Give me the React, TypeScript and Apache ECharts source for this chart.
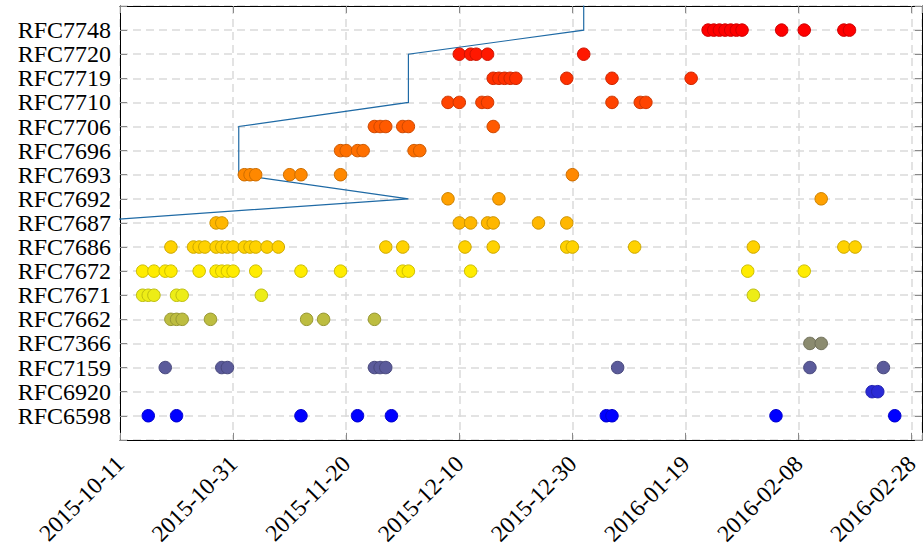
import React, { useEffect, useRef } from "react";
import * as echarts from "echarts";

// Categories, bottom to top
const categories = [
  "RFC6598", "RFC6920", "RFC7159", "RFC7366", "RFC7662", "RFC7671", "RFC7672", "RFC7686",
  "RFC7687", "RFC7692", "RFC7693", "RFC7696", "RFC7706", "RFC7710", "RFC7719", "RFC7720", "RFC7748",
];

// Event dates per RFC
const rfc6598 = ["2015-10-16", "2015-10-21", "2015-11-12", "2015-11-22", "2015-11-28", "2016-01-05", "2016-01-06", "2016-02-04", "2016-02-25"];
const rfc6920 = ["2016-02-21", "2016-02-22"];
const rfc7159 = ["2015-10-19", "2015-10-29", "2015-10-30", "2015-11-25", "2015-11-26", "2015-11-27", "2016-01-07", "2016-02-10", "2016-02-23"];
const rfc7366 = ["2016-02-10", "2016-02-12"];
const rfc7662 = ["2015-10-20", "2015-10-21", "2015-10-22", "2015-10-27", "2015-11-13", "2015-11-16", "2015-11-25"];
const rfc7671 = ["2015-10-15", "2015-10-16", "2015-10-17", "2015-10-21", "2015-10-22", "2015-11-05", "2016-01-31"];
const rfc7672 = ["2015-10-15", "2015-10-17", "2015-10-19", "2015-10-20", "2015-10-25", "2015-10-28", "2015-10-29", "2015-10-30", "2015-10-31", "2015-11-04", "2015-11-12", "2015-11-19", "2015-11-30", "2015-12-01", "2015-12-12", "2016-01-30", "2016-02-09"];
const rfc7686 = ["2015-10-20", "2015-10-24", "2015-10-25", "2015-10-26", "2015-10-28", "2015-10-29", "2015-10-30", "2015-10-31", "2015-11-02", "2015-11-03", "2015-11-04", "2015-11-06", "2015-11-08", "2015-11-27", "2015-11-30", "2015-12-11", "2015-12-16", "2015-12-29", "2015-12-30", "2016-01-10", "2016-01-31", "2016-02-16", "2016-02-18"];
const rfc7687 = ["2015-10-28", "2015-10-29", "2015-12-10", "2015-12-12", "2015-12-15", "2015-12-16", "2015-12-24", "2015-12-29"];
const rfc7692 = ["2015-12-08", "2015-12-17", "2016-02-12"];
const rfc7693 = ["2015-11-02", "2015-11-03", "2015-11-04", "2015-11-10", "2015-11-12", "2015-11-19", "2015-12-30"];
const rfc7696 = ["2015-11-19", "2015-11-20", "2015-11-22", "2015-11-23", "2015-12-02", "2015-12-03"];
const rfc7706 = ["2015-11-25", "2015-11-26", "2015-11-27", "2015-11-30", "2015-12-01", "2015-12-16"];
const rfc7710 = ["2015-12-08", "2015-12-10", "2015-12-14", "2015-12-15", "2016-01-06", "2016-01-11", "2016-01-12"];
const rfc7719 = ["2015-12-16", "2015-12-17", "2015-12-18", "2015-12-19", "2015-12-20", "2015-12-29", "2016-01-06", "2016-01-20"];
const rfc7720 = ["2015-12-10", "2015-12-12", "2015-12-13", "2015-12-15", "2016-01-01"];
const rfc7748 = ["2016-01-23", "2016-01-24", "2016-01-25", "2016-01-26", "2016-01-27", "2016-01-28", "2016-01-29", "2016-02-05", "2016-02-09", "2016-02-16", "2016-02-17"];

const rfcDates = [rfc6598, rfc6920, rfc7159, rfc7366, rfc7662, rfc7671, rfc7672, rfc7686, rfc7687, rfc7692, rfc7693, rfc7696, rfc7706, rfc7710, rfc7719, rfc7720, rfc7748];

// Blue line (date, category position)
const lineDates = ["2015-10-01", "2015-12-01", "2015-11-01", "2015-11-01", "2015-11-01", "2015-12-01", "2015-12-01", "2015-12-01", "2016-01-01", "2016-01-01"];
const linePositions = [8, 9, 10, 11, 12, 13, 14, 15, 16, 18];

// X tick labels (every 20 days from the start)
const xTickLabels = ["2015-10-11", "2015-10-31", "2015-11-20", "2015-12-10", "2015-12-30", "2016-01-19", "2016-02-08", "2016-02-28"];

const fills = ["#0000ff", "#2a2ad6", "#5b5b9b", "#8b8b6f", "#bdbd40", "#eded16", "#ffec00", "#ffd200", "#ffb700", "#ffa100", "#ff8800", "#ff7000", "#ff5a00", "#ff4400", "#ff3000", "#ff1800", "#ff0000"];
const borders = ["#0000cc", "#2222b0", "#48487c", "#6f6f59", "#979733", "#bdbd12", "#ccbd00", "#cca800", "#cc9200", "#cc8100", "#cc6d00", "#cc5a00", "#cc4800", "#cc3600", "#cc2600", "#cc1300", "#cc0000"];

const START = Date.UTC(2015, 9, 11);
function toDay(s: string): number {
  const [y, m, d] = s.split("-").map(Number);
  return (Date.UTC(y, m - 1, d) - START) / 86400000;
}

const FONT = "Liberation Serif";
const X_MAX = 141.8;

export default function App() {
  const ref = useRef<HTMLDivElement>(null);
  useEffect(() => {
    if (!ref.current) return;
    const chart = echarts.init(ref.current, null, { renderer: "svg" });
    const splitStyle = { show: true, lineStyle: { color: "#dadada", width: 1.5, type: [8, 5] as any } };
    const tickStyle = { show: true, inside: true, length: 7, lineStyle: { color: "#8a8a8a", width: 1 } };
    const axisLine = { show: true, onZero: false, lineStyle: { color: "#000", width: 1 } };

    const scatterSeries = categories.map((name, i) => ({
      type: "scatter",
      name,
      data: rfcDates[i].map((d) => [toDay(d), i]),
      symbol: "circle",
      symbolSize: 12.5,
      itemStyle: { color: fills[i], borderColor: borders[i], borderWidth: 1, opacity: 1 },
      z: 3,
      silent: true,
      emphasis: { disabled: true },
    }));

    const option: any = {
      animation: false,
      grid: { left: 120, right: 2, top: 6, bottom: 108, containLabel: false },
      xAxis: [
        {
          type: "value",
          min: 0,
          max: X_MAX,
          interval: 20,
          axisLine,
          axisTick: tickStyle,
          splitLine: splitStyle,
          axisLabel: {
            rotate: 45,
            margin: 20,
            fontFamily: FONT,
            fontSize: 23.5,
            color: "#000",
            formatter: (v: number) => {
              const k = Math.round(v / 20);
              if (Math.abs(v - k * 20) < 1e-6 && k >= 0 && k < xTickLabels.length) return xTickLabels[k];
              return "";
            },
          },
        },
        {
          type: "value",
          position: "top",
          min: 0,
          max: X_MAX,
          interval: 20,
          axisLine,
          axisTick: tickStyle,
          splitLine: { show: false },
          axisLabel: { show: false },
        },
      ],
      yAxis: [
        {
          type: "value",
          min: -1,
          max: 17,
          interval: 1,
          axisLine,
          axisTick: tickStyle,
          splitLine: splitStyle,
          axisLabel: {
            margin: 9,
            fontFamily: FONT,
            fontSize: 24,
            color: "#000",
            formatter: (v: number) => categories[Math.round(v)] ?? "",
          },
        },
        {
          type: "value",
          position: "right",
          min: -1,
          max: 17,
          interval: 1,
          axisLine,
          axisTick: tickStyle,
          splitLine: { show: false },
          axisLabel: { show: false },
        },
      ],
      series: [
        {
          type: "line",
          data: lineDates.map((d, i) => [toDay(d), linePositions[i]]),
          showSymbol: false,
          symbol: "none",
          clip: true,
          lineStyle: { color: "#1f6aa5", width: 1.2, join: "miter", miterLimit: 10 },
          z: 2,
          silent: true,
        },
        ...scatterSeries,
      ],
    };
    chart.setOption(option);
    return () => chart.dispose();
  }, []);
  return (
    <div
      ref={ref}
      style={{ position: "fixed", left: 0, top: 0, width: 924, height: 548, background: "#fff" }}
    />
  );
}
